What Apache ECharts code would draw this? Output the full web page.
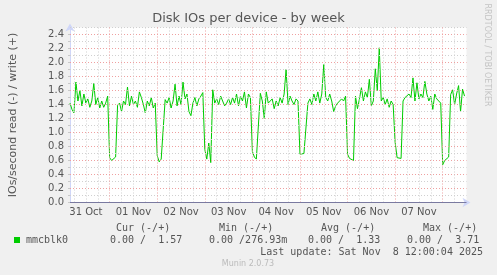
<!DOCTYPE html>
<html><head><meta charset="utf-8">
<script src="https://cdn.jsdelivr.net/npm/echarts@6/dist/echarts.min.js"></script>
<style>html,body{margin:0;padding:0;background:#F0F0F0}#c{width:497px;height:275px}</style>
</head><body><div id="c"></div>
<script>
const titleText = 'Disk IOs per device - by week';
const yAxisName = 'IOs/second read (-) / write (+)';
const startHour = 4;   // hours after 31 Oct 00:00
const endHour = 204;   // 8 Nov 12:00
const yMax = 2.5;
const dayLabels = ['31 Oct', '01 Nov', '02 Nov', '03 Nov', '04 Nov', '05 Nov', '06 Nov', '07 Nov'];
const dayLabelHours = [12, 36, 60, 84, 108, 132, 156, 180];
// hourly write IOs/s, from 31 Oct 04:00
const writeOct31 = [1.42,1.33,1.28,1.72,1.45,1.60,1.38,1.55,1.42,1.48,1.36,1.45,1.70,1.40,1.50,1.35,1.45,1.36,1.42,1.52];
const writeNov1 = [0.64,0.60,0.59,0.65,1.39,1.42,1.30,1.45,1.40,1.65,1.38,1.52,1.40,1.45,1.36,1.58,1.50,1.40,1.28,1.45,1.38,1.50,1.35,1.42];
const writeNov2 = [0.67,0.58,0.62,0.60,1.47,1.42,1.50,1.35,1.45,1.69,1.38,1.52,1.40,1.72,1.48,1.55,1.30,1.24,1.42,1.50,1.38,1.48,1.52,1.57];
const writeNov3 = [0.76,0.62,0.85,0.57,1.61,1.42,1.48,1.40,1.52,1.45,1.38,1.42,1.48,1.40,1.50,1.42,1.55,1.38,1.52,1.45,1.58,1.35,1.55,1.50];
const writeNov4 = [0.73,0.65,0.62,0.60,1.56,1.45,1.20,1.58,1.42,1.40,1.48,1.34,1.45,1.38,1.50,1.42,1.55,1.90,1.40,1.52,1.45,1.40,1.48,1.45];
const writeNov5 = [0.69,0.68,0.70,0.70,1.42,1.48,1.40,1.55,1.45,1.58,1.42,1.55,1.97,1.50,1.45,1.55,1.45,1.30,1.38,1.42,1.40,1.48,1.45,1.52];
const writeNov6 = [0.69,0.63,0.62,0.60,1.52,1.34,1.48,1.64,1.45,1.58,1.50,1.76,1.38,1.45,1.91,1.60,2.21,1.45,1.50,1.40,1.48,1.36,1.45,1.40];
const writeNov7 = [0.86,0.64,0.66,0.63,1.45,1.50,1.48,1.55,1.50,1.78,1.45,1.71,1.48,1.55,1.50,1.73,1.55,1.45,1.52,1.33,1.55,1.48,1.45,1.42];
const writeNov8 = [0.54,0.60,0.58,0.65,1.54,1.61,1.40,1.55,1.67,1.30,1.62,1.52];
const legendName = 'mmcblk0';
const statHeaders = ['Cur (-/+)', 'Min (-/+)', 'Avg (-/+)', 'Max (-/+)'];
const statValues = ['0.00 /  1.57', '0.00 /276.93m', '0.00 /  1.33', '0.00 /  3.71'];
const lastUpdate = 'Last update: Sat Nov  8 12:00:04 2025';
const footer = 'Munin 2.0.73';
const sideText = 'RRDTOOL / TOBI OETIKER';

const writeRate = [].concat(writeOct31, writeNov1, writeNov2, writeNov3, writeNov4, writeNov5, writeNov6, writeNov7, writeNov8);
const writeData = writeRate.map((v, i) => [startHour + i, v]);

const RED = '#EFA0A0';
const GRAY = '#D0D0D0';
const TXT = '#555';

const gridLines = [];
for (let k = 1; k <= Math.round(yMax * 10); k++) {
  gridLines.push({ yAxis: k / 10, lineStyle: { color: k % 2 === 0 ? RED : GRAY, type: [1, 2], width: 1 } });
}
for (let h = 6; h < endHour; h += 6) {
  gridLines.push({ xAxis: h, lineStyle: { color: h % 24 === 0 ? RED : GRAY, type: [1, 2], width: 1 } });
}
gridLines.push({ yAxis: 0, lineStyle: { color: '#7A7AA0', type: 'solid', width: 1 } });

const chart = echarts.init(document.getElementById('c'), null, { renderer: 'canvas' });
const mono = 'DejaVu Sans Mono';
const graphics = [
  { type: 'text', x: 248.5, y: 19, style: { text: titleText, fill: TXT, font: '13px "DejaVu Sans"', textAlign: 'center', textVerticalAlign: 'middle' } },
  { type: 'text', x: 487, y: 55, rotation: -Math.PI / 2, style: { text: sideText, fill: '#C4C4C4', font: '8px "DejaVu Sans"', textAlign: 'center', textVerticalAlign: 'middle' } },
  { type: 'rect', shape: { x: 14, y: 237, width: 6, height: 6 }, style: { fill: '#00CC00' } },
  { type: 'text', x: 26, y: 240, style: { text: legendName, fill: TXT, font: '10px "' + mono + '"', textVerticalAlign: 'middle' } },
  { type: 'text', x: 483, y: 252, style: { text: lastUpdate, fill: TXT, font: '10px "' + mono + '"', textAlign: 'right', textVerticalAlign: 'middle' } },
  { type: 'text', x: 248, y: 264, style: { text: footer, fill: '#BBBBBB', font: '8px "DejaVu Sans"', textAlign: 'center', textVerticalAlign: 'middle' } }
];
const headerX = [116, 219, 321, 423];
const valueX = [110, 209, 308, 407];
statHeaders.forEach((t, i) => graphics.push({ type: 'text', x: headerX[i], y: 228, style: { text: t, fill: TXT, font: '10px "' + mono + '"', textVerticalAlign: 'middle' } }));
statValues.forEach((t, i) => graphics.push({ type: 'text', x: valueX[i], y: 240, style: { text: t, fill: TXT, font: '10px "' + mono + '"', textVerticalAlign: 'middle' } }));

chart.setOption({
  backgroundColor: '#F0F0F0',
  animation: false,
  grid: { left: 66.5, width: 400, top: 27.5, height: 175, show: true, backgroundColor: '#FFFFFF', borderWidth: 0 },
  xAxis: {
    type: 'value', min: startHour, max: endHour,
    axisLine: { show: true, onZero: false, lineStyle: { color: '#CFD6F8', width: 1 }, symbol: ['none', 'arrow'], symbolSize: [7, 8], symbolOffset: [0, 4] },
    axisTick: { show: false },
    splitLine: { show: false },
    axisLabel: {
      customValues: dayLabelHours,
      formatter: v => dayLabels[dayLabelHours.indexOf(Math.round(v))] || '',
      color: TXT, fontSize: 10, fontFamily: 'DejaVu Sans', margin: 5
    }
  },
  yAxis: {
    type: 'value', min: 0, max: yMax, interval: 0.1,
    name: yAxisName, nameLocation: 'middle', nameGap: 51,
    nameTextStyle: { color: TXT, fontSize: 11, fontFamily: 'DejaVu Sans' },
    axisLine: { show: true, lineStyle: { color: '#CFD6F8', width: 1 }, symbol: ['none', 'arrow'], symbolSize: [7, 8], symbolOffset: [0, 4] },
    axisTick: { show: true, length: 2, lineStyle: { color: '#C8C8C8' } },
    axisLabel: {
      formatter: v => (Math.round(v * 10) % 2 === 0 ? v.toFixed(1) : ''),
      color: TXT, fontSize: 10, fontFamily: 'DejaVu Sans', margin: 6
    },
    splitLine: { show: false }
  },
  graphic: graphics,
  series: [
    {
      type: 'line', data: [], z: 1, silent: true,
      markLine: { silent: true, symbol: ['none', 'none'], label: { show: false }, animation: false, data: gridLines }
    },
    {
      name: legendName, type: 'line', data: writeData, showSymbol: false, z: 3,
      lineStyle: { color: '#00CC00', width: 1 }, itemStyle: { color: '#00CC00' }
    }
  ]
});
</script></body></html>
